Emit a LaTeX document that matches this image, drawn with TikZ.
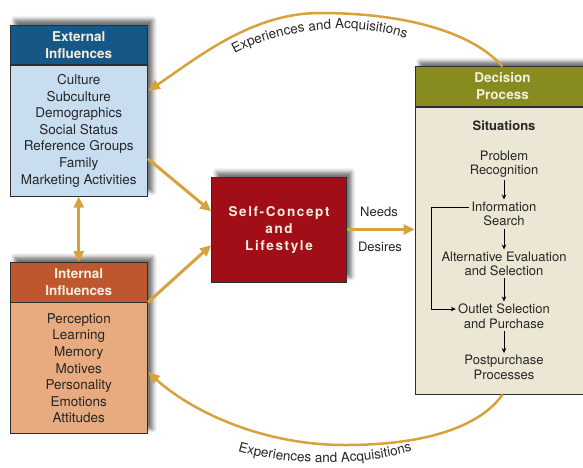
\documentclass[tikz,border=0pt]{standalone}
\usepackage{fontspec}
\setmainfont{TeX Gyre Heros}
\usepackage{tikz}
\usetikzlibrary{arrows.meta,shadows.blur,backgrounds,decorations.text}

\definecolor{extdark}{RGB}{21,87,135}
\definecolor{extlight}{RGB}{201,221,241}
\definecolor{intdark}{RGB}{190,86,46}
\definecolor{intlight}{RGB}{231,171,127}
\definecolor{selfred}{RGB}{161,14,24}
\definecolor{decdark}{RGB}{136,140,32}
\definecolor{declight}{RGB}{236,231,212}
\definecolor{gold}{RGB}{215,161,60}
\definecolor{headtext}{RGB}{243,240,222}
\definecolor{bodytext}{RGB}{38,38,38}
\definecolor{boxline}{RGB}{45,45,45}

\newcommand{\arcfont}{\fontsize{13.5}{15}\selectfont\color{bodytext}}

\tikzset{every picture/.style={line width=0.75pt}}
\tikzset{
  panel/.style={draw=boxline, line width=0.8pt, inner sep=0pt, align=center, minimum width=137.5pt},
  headtitle/.style={panel, minimum height=39.5pt, text=headtext, font=\fontsize{13.5}{17}\selectfont\bfseries},
  listtext/.style={panel, text=bodytext, font=\fontsize{13.5}{16.6}\selectfont},
  steptext/.style={align=center, inner sep=2pt, text=bodytext, font=\fontsize{13}{14.5}\selectfont},
  boxshadow/.style={blur shadow={shadow xshift=5pt, shadow yshift=5pt, shadow blur radius=4pt, shadow opacity=55}},
  goldarrow/.style={draw=gold, line width=3pt, -{Triangle[length=11pt,width=10pt]}},
  goldarc/.style={draw=gold, line width=2.5pt, -{Triangle[length=12pt,width=10pt]}},
  steparrow/.style={draw=black, line width=1pt, -{Stealth[length=5pt,width=4.5pt]}},
}

\begin{document}
\begin{tikzpicture}[x=1pt,y=1pt,yscale=-1,xscale=1]
\useasboundingbox (0,0) rectangle (583,467);
\clip (0,0) rectangle (583,467);

% External Influences
\node[headtitle, fill=extdark] (exthead) at (78.75,44.75) {External\\Influences};
\node[listtext, fill=extlight, anchor=north, minimum height=131pt] (extbody) at (exthead.south) {Culture\\Subculture\\Demographics\\Social Status\\Reference Groups\\Family\\Marketing Activities};

% Internal Influences
\node[headtitle, fill=intdark] (inthead) at (78.75,282.25) {Internal\\Influences};
\node[listtext, fill=intlight, anchor=north, minimum height=131pt] (intbody) at (inthead.south) {Perception\\Learning\\Memory\\Motives\\Personality\\Emotions\\Attitudes};

% Self-Concept and Lifestyle
\node[draw=boxline, line width=0.8pt, fill=selfred, minimum width=135pt, minimum height=105pt, text=headtext, align=center, font=\fontsize{13.5}{17}\selectfont\bfseries\addfontfeatures{LetterSpace=12}, boxshadow] (self) at (279,229.5) {Self-Concept\\and\\Lifestyle};

% Decision Process
\node[headtitle, fill=decdark, minimum width=175pt] (dechead) at (502.5,86.5) {Decision\\Process};
\node[panel, fill=declight, minimum width=175pt, minimum height=287pt, anchor=north] (decbody) at (dechead.south) {};

\node[steptext, font=\fontsize{13}{14.5}\selectfont\bfseries] (situ) at (504,126) {Situations};
\node[steptext] (prob) at (504,164) {Problem\\Recognition};
\node[steptext] (info) at (504,214) {Information\\Search};
\node[steptext] (alt) at (504,264) {Alternative Evaluation\\and Selection};
\node[steptext] (outlet) at (504,316) {Outlet Selection\\and Purchase};
\node[steptext] (post) at (504,367.5) {Postpurchase\\Processes};

\draw[steparrow] (prob) -- (info);
\draw[steparrow] (info) -- (alt);
\draw[steparrow] (alt) -- (outlet);
\draw[steparrow] (outlet) -- (post);
\draw[steparrow] ([yshift=-7pt]info.west) -- ++(-38,0) |- ([yshift=-7pt]outlet.west);

% shadows
\begin{scope}[on background layer]
\path[boxshadow] (exthead.north west) rectangle (extbody.south east);
\path[boxshadow] (inthead.north west) rectangle (intbody.south east);
\path[boxshadow] (dechead.north west) rectangle (decbody.south east);
\end{scope}

% Gold connectors
\draw[goldarrow] (extbody.-22) -- (self.165);
\draw[goldarrow] (intbody.north east) -- (self.193);
\draw[goldarrow, {Triangle[length=11pt,width=10pt]}-{Triangle[length=11pt,width=10pt]}] (extbody.south) -- (inthead.north);
\draw[goldarrow] (self.east) -- (self.east -| decbody.west);
\node[font=\fontsize{13}{15}\selectfont, text=bodytext] (needs) at (379,212) {Needs};
\node[font=\fontsize{13}{15}\selectfont, text=bodytext] (desires) at (380,247) {Desires};

% Feedback arcs
\draw[goldarc] (dechead.north) .. controls (470,30) and (400,13) .. (320,13) .. controls (250,13) and (195,60) .. (extbody.30);
\draw[goldarc] (decbody.south) .. controls (485,420) and (440,445) .. (345,445) .. controls (260,445) and (190,410) .. (intbody.-3);

\path[decorate, decoration={text along path, text align=center, text={|\arcfont|Experiences and Acquisitions}}] (220,63) .. controls (270,27) and (365,17) .. (422,45);
\path[decorate, decoration={text along path, text align=center, text={|\arcfont|Experiences and Acquisitions}}] (223,446) .. controls (280,468) and (370,468) .. (427,446);

\end{tikzpicture}
\end{document}
